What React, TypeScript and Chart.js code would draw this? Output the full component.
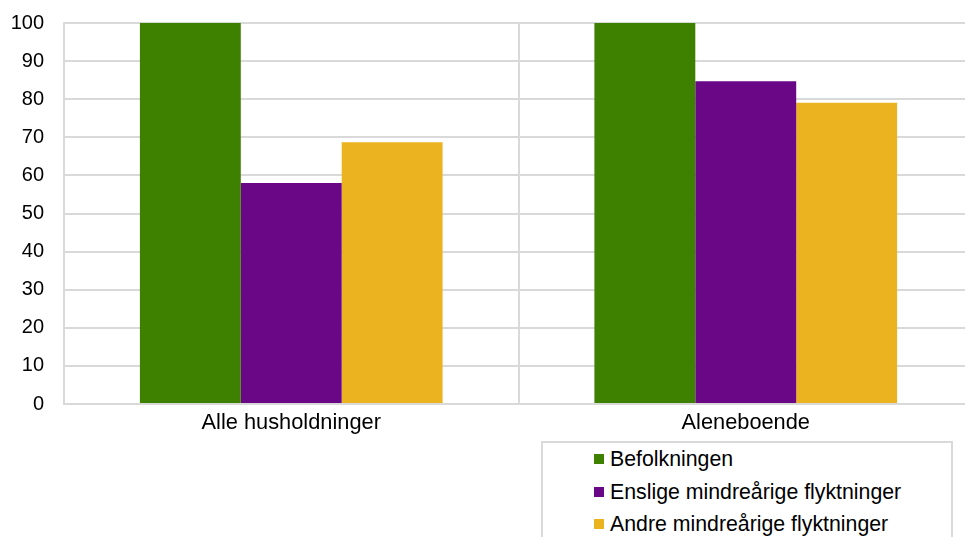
import React, { useEffect, useRef } from "react";
import { Chart, registerables } from "chart.js";

Chart.register(...registerables);

const categories = ["Alle husholdninger", "Aleneboende"];
const seriesNames = ["Befolkningen", "Enslige mindreårige flyktninger", "Andre mindreårige flyktninger"];
const befolkningen = [100, 100];
const enslige = [58, 84.7];
const andre = [68.7, 79.1];
const seriesColors = ["#3E8000", "#690786", "#ECB321"];
const yTicks = [0, 10, 20, 30, 40, 50, 60, 70, 80, 90, 100];

const FONT = "'Liberation Sans', Arial, sans-serif";
const GRID = "#d9d9d9";

export default function App() {
  const ref = useRef<HTMLCanvasElement | null>(null);

  useEffect(() => {
    if (!ref.current) return;
    const values = [befolkningen, enslige, andre];
    const chart = new Chart(ref.current, {
      type: "bar",
      data: {
        labels: categories,
        datasets: seriesNames.map((name, i) => ({
          label: name,
          data: values[i],
          backgroundColor: seriesColors[i],
          borderWidth: 0,
          barPercentage: 1,
          categoryPercentage: 0.666,
        })),
      },
      options: {
        responsive: false,
        animation: false,
        layout: { padding: { left: 0, top: 23, right: 7, bottom: 0 } },
        plugins: { legend: { display: false }, tooltip: { enabled: false } },
        scales: {
          x: {
            grid: { color: GRID, lineWidth: 2, drawTicks: false, offset: true },
            border: { color: GRID, width: 2 },
            ticks: { color: "#000", font: { family: FONT, size: 21.8 }, padding: 6 },
            afterFit: (s: any) => { s.height = 133; s.paddingLeft = 0; s.paddingRight = 0; },
          },
          y: {
            min: 0,
            max: 100,
            afterBuildTicks: (s: any) => { s.ticks = yTicks.map((v) => ({ value: v })); },
            grid: { color: GRID, lineWidth: 2, drawTicks: false },
            border: { color: GRID, width: 2 },
            ticks: { color: "#000", font: { family: FONT, size: 20 }, padding: 20 },
            afterFit: (s: any) => { s.width = 64; s.paddingTop = 0; s.paddingBottom = 0; },
          },
        },
      },
    });
    return () => chart.destroy();
  }, []);

  return (
    <div style={{ position: "fixed", left: 0, top: 0, width: 965, height: 537, overflow: "hidden", background: "#fff" }}>
      <canvas ref={ref} width={980} height={537} style={{ display: "block", width: 980, height: 537 }} />
      <div
        style={{
          position: "absolute",
          left: 541,
          top: 441,
          width: 412,
          height: 130,
          boxSizing: "border-box",
          border: `2px solid ${GRID}`,
          background: "#fff",
          fontFamily: FONT,
          fontSize: 21.3,
          color: "#000",
        }}
      >
        {seriesNames.map((name, i) => (
          <div key={name} style={{ display: "flex", alignItems: "center", height: 32.5, paddingLeft: 51 }}>
            <span style={{ display: "inline-block", width: 10, height: 10, background: seriesColors[i], marginRight: 6 }} />
            <span style={{ lineHeight: "32.5px", whiteSpace: "nowrap" }}>{name}</span>
          </div>
        ))}
      </div>
    </div>
  );
}
